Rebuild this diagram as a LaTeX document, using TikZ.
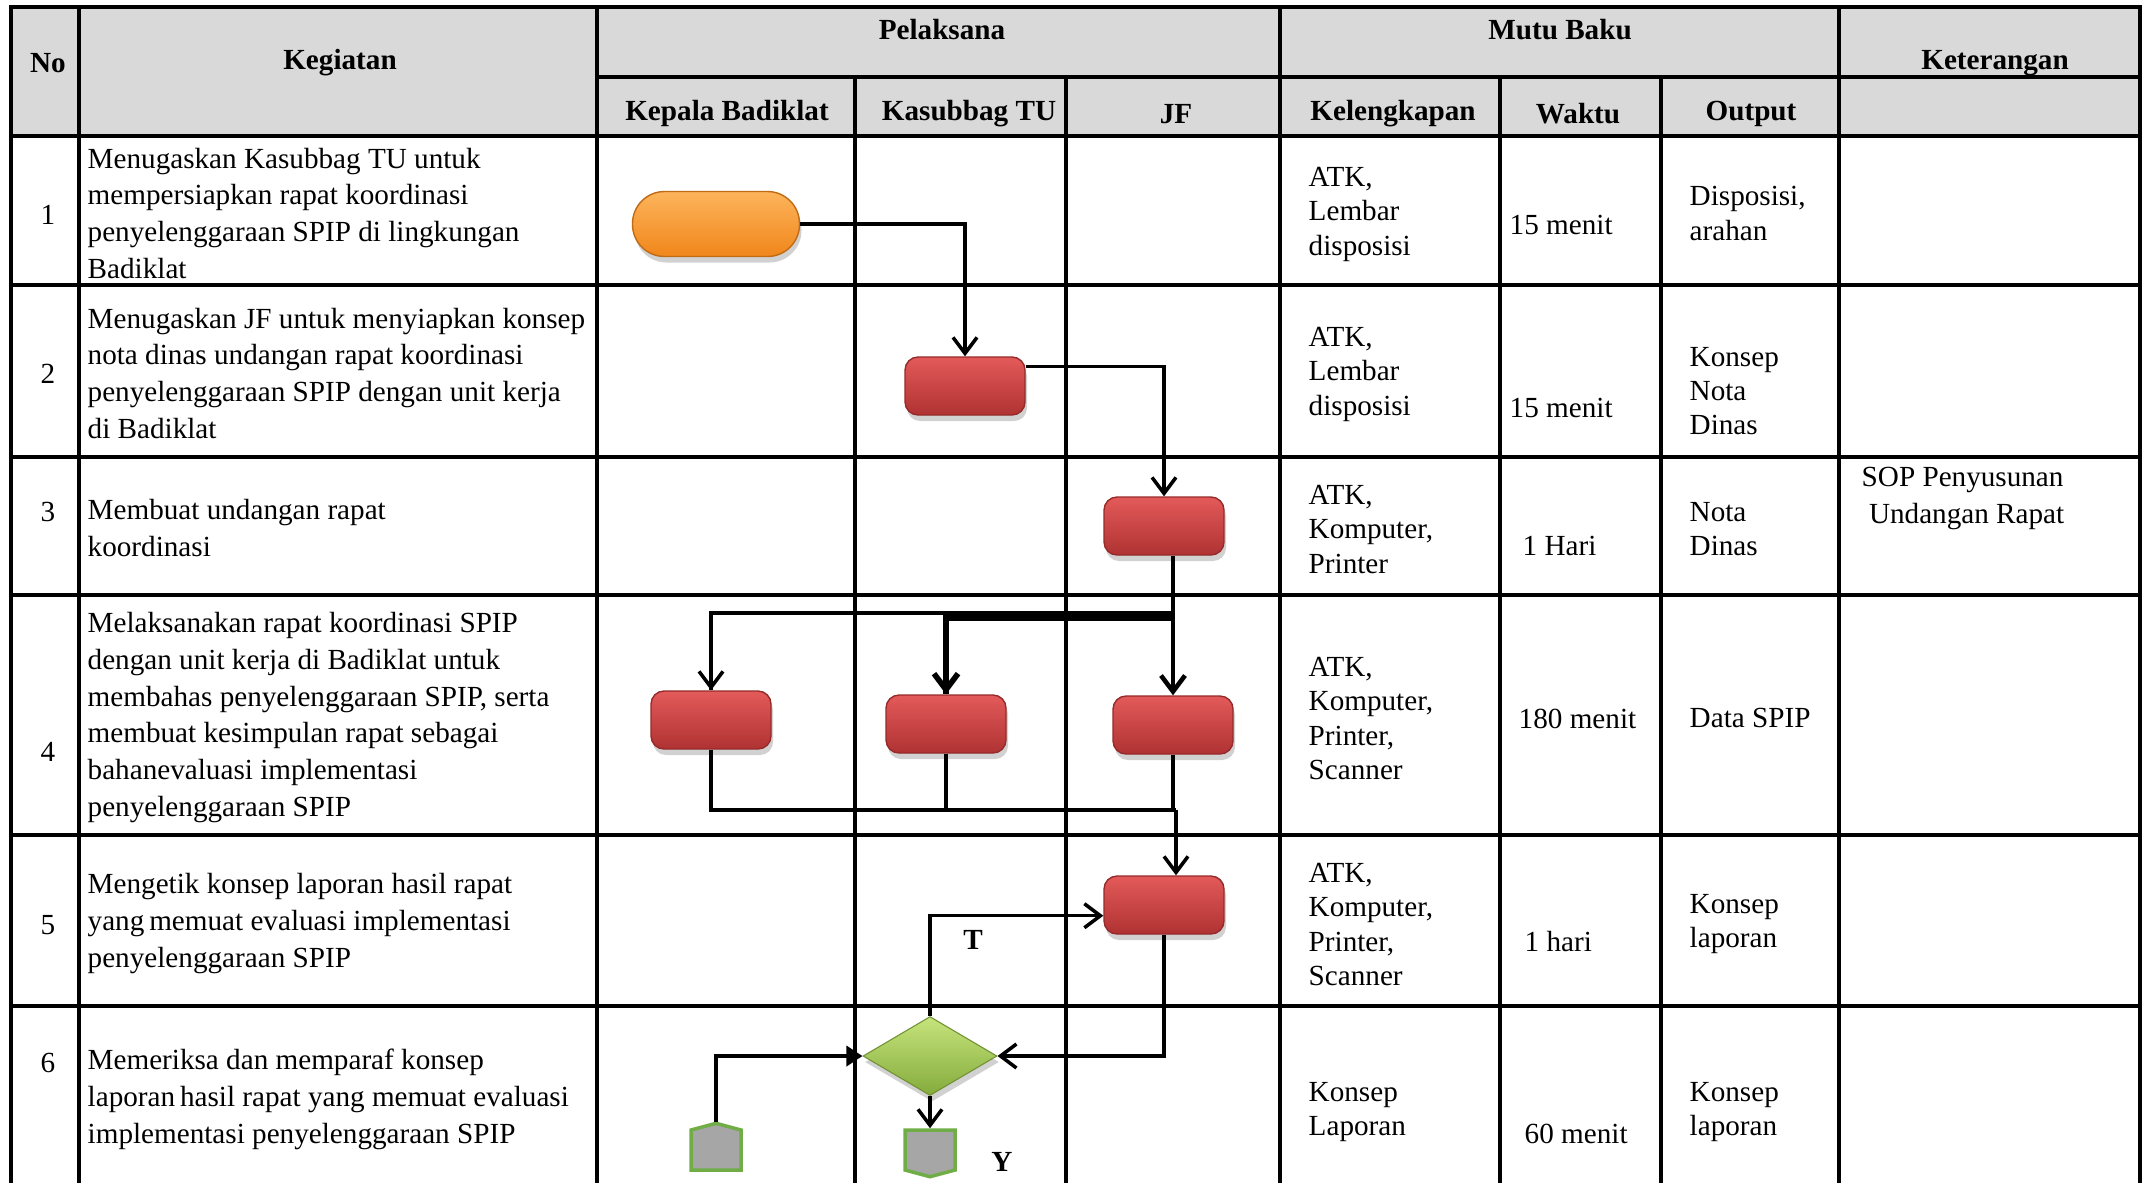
\documentclass[tikz,border=0pt]{standalone}
\usepackage{fontspec}
\setmainfont{Liberation Serif}
\usetikzlibrary{arrows.meta,shapes.geometric,shapes.symbols,shadows}
\definecolor{hdrgray}{HTML}{D9D9D9}
\definecolor{redtop}{HTML}{E35A5A}
\definecolor{redbot}{HTML}{B03232}
\definecolor{redline}{HTML}{962A2A}
\definecolor{orgtop}{HTML}{FDB45C}
\definecolor{orgbot}{HTML}{F0861A}
\definecolor{grntop}{HTML}{C6E47C}
\definecolor{grnbot}{HTML}{84AB3C}
\definecolor{grnline}{HTML}{70AD47}
\begin{document}
\begin{tikzpicture}[x=0.1mm,y=-0.1mm,font=\fontsize{8.3}{10.5}\selectfont,
  grid/.style={line width=1pt,line cap=rect},
  hdr/.style={font=\fontsize{8.3}{10.5}\selectfont\bfseries,inner sep=0pt,yshift=-0.8pt},
  txt/.style={anchor=west,align=left,inner sep=0pt,yshift=-0.7pt},
  mutu/.style={txt,font=\fontsize{8.3}{9.7}\selectfont},
  shd/.style={drop shadow={shadow xshift=0.2mm,shadow yshift=-0.6mm,opacity=0.3,fill=black!60}},
  proses/.style={shd,draw=redline,line width=0.4pt,rounded corners=1.3mm,top color=redtop,bottom color=redbot,minimum width=1.2cm,minimum height=0.58cm,inner sep=0pt},
  terminal/.style={shd,draw=orgbot!80!black,line width=0.4pt,rounded corners=3.2mm,top color=orgtop,bottom color=orgbot,minimum width=1.67cm,minimum height=0.65cm,inner sep=0pt},
  keputusan/.style={shd,diamond,aspect=1.7,top color=grntop,bottom color=grnbot,draw=grnbot!85!black,line width=0.3pt,minimum width=1.34cm,minimum height=0.79cm,inner sep=0pt},
  offpage/.style={signal,signal pointer angle=150,fill=black!35,draw=grnline,line width=1pt,minimum width=0.5cm,minimum height=0.4cm,inner sep=0pt},
  flow/.style={line width=1pt,-{Straight Barb[length=1.6mm,width=2.4mm]}},
  garis/.style={line width=1pt}]
\useasboundingbox (0,0) rectangle (2144,1182);
% tabel
\fill[hdrgray] (11,7) rectangle (2140,136);
\foreach \x in {11,79,597,1280,1839,2140} \draw[grid] (\x,7)--(\x,1182);
\foreach \x in {855,1066,1500,1661} \draw[grid] (\x,77)--(\x,1182);
\foreach \y in {7,136,285,457,595,835,1006} \draw[grid] (11,\y)--(2140,\y);
\draw[grid] (597,77)--(2140,77);
% kepala tabel
\node[hdr] (hno) at (48,60) {No};
\node[hdr] (hkeg) at (340,60) {Kegiatan};
\node[hdr] (hpel) at (942,27) {Pelaksana};
\node[hdr] (hmutu) at (1560,27) {Mutu Baku};
\node[hdr] (hket) at (1995,60) {Keterangan};
\foreach \i/\x/\t in {1/727/Kepala Badiklat,2/969/Kasubbag TU,3/1176/JF,4/1393/Kelengkapan,5/1578/Waktu,6/1751/Output}
  \node[hdr] (hsub\i) at (\x,111) {\t};
% kegiatan
\foreach \n/\ny/\y/\t in {
  1/212/211/{Menugaskan Kasubbag TU untuk\\mempersiapkan rapat koordinasi\\penyelenggaraan SPIP di lingkungan\\Badiklat},
  2/371/371/{Menugaskan JF untuk menyiapkan konsep\\nota dinas undangan rapat koordinasi\\penyelenggaraan SPIP dengan unit kerja\\di Badiklat},
  3/510/526/{Membuat undangan rapat\\koordinasi},
  4/749/715/{Melaksanakan rapat koordinasi SPIP\\dengan unit kerja di Badiklat untuk\\membahas penyelenggaraan SPIP, serta\\membuat kesimpulan rapat sebagai\\bahanevaluasi implementasi\\penyelenggaraan SPIP},
  5/923/921/{Mengetik konsep laporan hasil rapat\\yang\,memuat evaluasi implementasi\\penyelenggaraan SPIP},
  6/1060/1097/{Memeriksa dan memparaf konsep\\laporan\,hasil rapat yang memuat evaluasi\\implementasi penyelenggaraan SPIP}}
  {\node[yshift=-0.7pt] (no\n) at (48,\ny) {\n};
   \node[txt] (keg\n) at (87,\y) {\t};}
% mutu baku
\foreach \n/\y/\t in {1/212/{ATK,\\Lembar\\disposisi},2/372/{ATK,\\Lembar\\disposisi},3/527/{ATK,\\Komputer,\\Printer},
  4/716/{ATK,\\Komputer,\\Printer,\\Scanner},5/922/{ATK,\\Komputer,\\Printer,\\Scanner},6/1110/{Konsep\\Laporan}}
  \node[mutu] (lengkap\n) at (1308,\y) {\t};
\foreach \n/\x/\y/\t in {1/1509/223/15 menit,2/1509/406/15 menit,3/1522/544/1 Hari,4/1518/716/180 menit,5/1524/939/1 hari,6/1524/1131/60 menit}
  \node[mutu] (waktu\n) at (\x,\y) {\t};
\foreach \n/\y/\t in {1/211/{Disposisi,\\arahan},2/389/{Konsep\\Nota\\Dinas},3/527/{Nota\\Dinas},4/716/{Data SPIP},5/922/{Konsep\\laporan},6/1110/{Konsep\\laporan}}
  \node[mutu] (output\n) at (1689,\y) {\t};
\node[txt] (ket3) at (1861,496) {SOP Penyusunan\\\ Undangan Rapat};
% bagan alir
\node[terminal] (mulai) at (716,224) {};
\node[proses] (p2) at (965,386) {};
\node[proses] (p3) at (1164,526) {};
\node[proses] (p4a) at (711,720) {};
\node[proses] (p4b) at (946,724) {};
\node[proses] (p4c) at (1173,725) {};
\node[proses] (p5) at (1164,905) {};
\node[keputusan] (cek) at (930,1056) {};
\node[offpage,signal to=north] (offa) at (716,1150) {};
\node[offpage,signal to=south] (offb) at (930,1150) {};
\coordinate (pisah) at (1174,613);
\coordinate (pisahb) at (1174,618);
\coordinate (gabung) at (1176,810);
\draw[flow] (mulai.east) -| (p2.north);
\draw[flow] (p2.18) -| (p3.north);
\draw[flow,line width=1.3pt] (p4c.north |- p3.south) -- (p4c.north);
\draw[garis,line width=1.3pt] (pisah) -| (p4a.north);
\draw[flow] (p4a.north |- pisah) -- (p4a.north);
\draw[garis,line width=1.6pt] (pisahb) -| (p4b.north);
\draw[flow,line width=1.6pt] (p4b.north |- pisahb) -- (p4b.north);
\draw[garis] (p4a.south) |- (gabung);
\draw[garis] (p4b.south) |- (gabung);
\draw[garis] (p4c.south) -- (p4c.south |- gabung);
\draw[flow] (gabung) -- (gabung |- p5.north);
\draw[flow] (cek.north) |- (p5.190);
\draw[flow] (p5.south) |- (cek.east);
\draw[line width=1pt,-{Triangle[length=1.6mm,width=2mm]}] (offa.north) |- (cek.west);
\draw[flow] (cek.south) -- (offb.north);
\node[font=\fontsize{8.3}{10.5}\selectfont\bfseries] (labT) at (973,940) {T};
\node[font=\fontsize{8.3}{10.5}\selectfont\bfseries] (labY) at (1002,1162) {Y};
\end{tikzpicture}
\end{document}
